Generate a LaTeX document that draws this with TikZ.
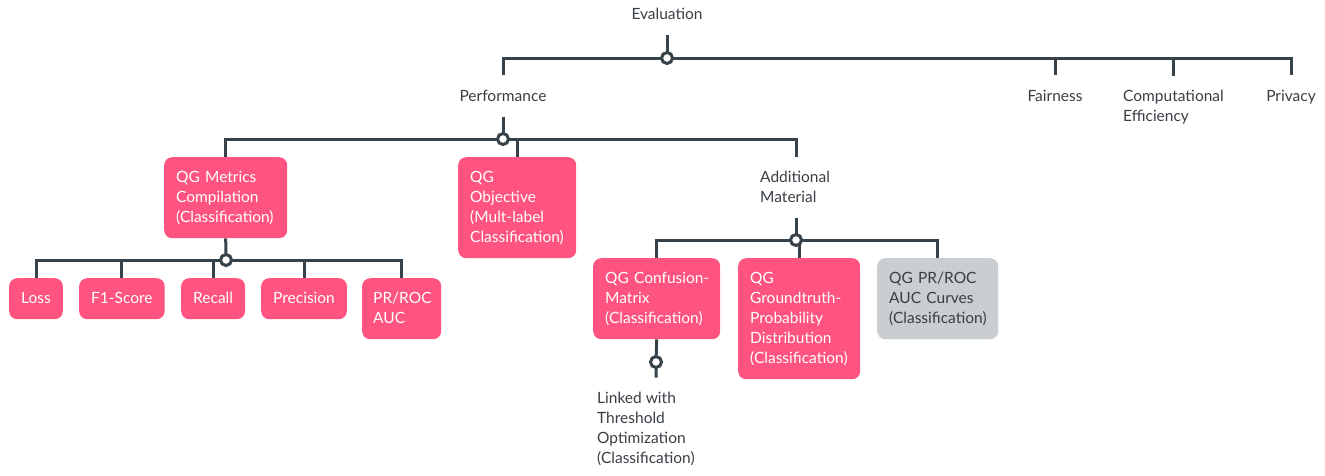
\documentclass[tikz,border=0pt]{standalone}
\usepackage{fontspec}
\setmainfont{Lato}
\definecolor{ln}{HTML}{37434A}
\definecolor{pk}{HTML}{FF5480}
\definecolor{gy}{HTML}{C9CED1}
\definecolor{tx}{HTML}{383E44}
\newcommand\mystr[1]{\rule{0pt}{15pt}#1\rule[-5pt]{0pt}{5pt}}
\begin{document}
\begin{tikzpicture}[x=1pt,y=-1pt,
  base/.style={rectangle, inner xsep=12pt, inner ysep=10.5pt, font=\fontsize{15.5}{20}\selectfont},
  lab/.style={base, text=tx},
  box/.style={base, rounded corners=8pt, fill=pk, text=white, align=left, anchor=north west},
  gbox/.style={box, fill=gy, text=tx},
  sbox/.style={base, rounded corners=8pt, fill=pk, text=white, align=center, anchor=north west},
  conn/.style={draw=ln, line width=3pt},
  jn/.style={circle, draw=ln, fill=white, line width=3pt, inner sep=0pt, minimum size=11pt}]
\useasboundingbox (0,0) rectangle (1325,475);
% labels
\node[lab, align=center] (eval) at (667,14) {\mystr{Evaluation}};
\node[lab, align=center] (perf) at (503,96) {\mystr{Performance}};
\node[lab, align=center] (fair) at (1055,96) {\mystr{Fairness}};
\node[lab, align=center] (priv) at (1291,96) {\mystr{Privacy}};
\node[lab, align=left, anchor=north west] (comp) at (1111,75.5) {\mystr{Computational\\Efficiency}};
\node[lab, align=left, anchor=north west] (addm) at (748,156.5) {\mystr{Additional\\Material}};
\node[lab, align=left, anchor=north west] (linked) at (585,377.5) {\mystr{Linked with\\Threshold\\Optimization\\(Classification)}};
% boxes
\node[box, text width=99pt] (metrics) at (164,157) {\mystr{\mbox{QG Metrics}\\Compilation\\(Classification)}};
\node[box, text width=94pt] (obj) at (458,157) {\mystr{QG\\Objective\\\mbox{(Mult-label}\\Classification)}};
\node[box, text width=103pt] (conf) at (593,258) {\mystr{\mbox{QG Confusion-}\\Matrix\\(Classification)}};
\node[box, text width=98pt] (gt) at (738,258) {\mystr{QG\\\mbox{Groundtruth-}\\Probability\\Distribution\\(Classification)}};
\node[gbox, text width=97pt] (pr) at (877,258) {\mystr{\mbox{QG PR/ROC}\\\mbox{AUC Curves}\\(Classification)}};
\node[sbox, minimum width=53pt] (loss) at (9,278) {\mystr{Loss}};
\node[sbox, minimum width=84pt] (f1) at (79,278) {\mystr{F1-Score}};
\node[sbox, minimum width=63pt] (recall) at (181,278) {\mystr{Recall}};
\node[sbox, minimum width=84pt] (prec) at (261,278) {\mystr{Precision}};
\node[box, text width=57pt, inner xsep=11pt] (prauc) at (362,278) {\mystr{PR/ROC\\AUC}};
% junctions
\coordinate (jE) at (667,58);
\coordinate (jP) at (503,139);
\coordinate (jA) at (796,240);
\coordinate (jM) at (226,260);
\coordinate (jC) at (656,362);
% connectors
\draw[conn] (eval.south -| jE) -- (jE);
\draw[conn] (perf.north) |- (jE) -| (priv.north);
\draw[conn] (jE) -| (fair.north);
\draw[conn] (jE) -| (comp.north);
\draw[conn] (perf.south) -- (jP);
\draw[conn] (metrics.north) |- (jP) -| (addm.north -| jA);
\draw[conn] (jP) -| (obj.north);
\draw[conn] (addm.south -| jA) -- (jA);
\draw[conn] (conf.north) |- (jA) -| (pr.north);
\draw[conn] (jA) -| (gt.north);
\draw[conn] (metrics.south) -- (jM);
\draw[conn] (loss.north) |- (jM) -| (prauc.north);
\draw[conn] (jM) -| (f1.north);
\draw[conn] (jM) -| (recall.north);
\draw[conn] (jM) -| (prec.north);
\draw[conn] (conf.south) -- (jC) -- (jC |- linked.north);
% junction circles
\node[jn] (cE) at (jE) {};
\node[jn] (cP) at (jP) {};
\node[jn] (cA) at (jA) {};
\node[jn] (cM) at (jM) {};
\node[jn] (cC) at (jC) {};
\end{tikzpicture}
\end{document}
